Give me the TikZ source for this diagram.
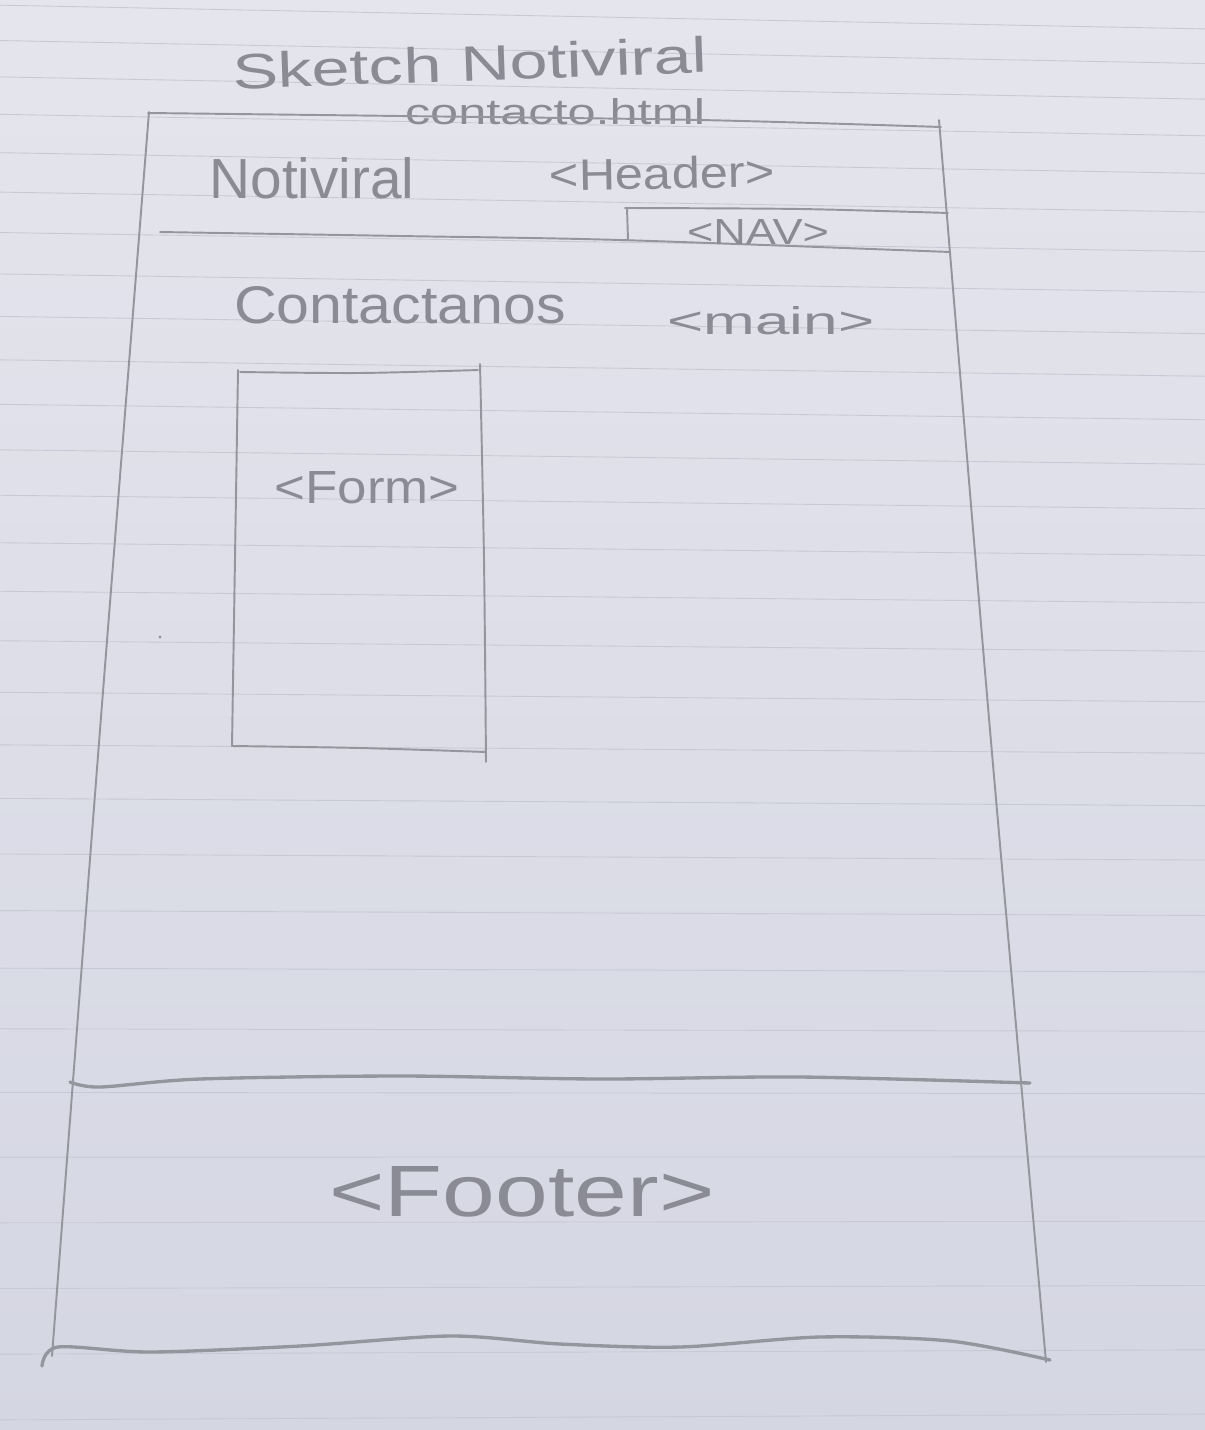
\documentclass[tikz,border=0pt]{standalone}
\usepackage{fontspec}
\setmainfont{Liberation Sans}
\usepackage{graphicx}
\definecolor{papertop}{HTML}{E5E5ED}
\definecolor{paperbottom}{HTML}{D4D6E2}
\definecolor{ruling}{HTML}{C8C9D4}
\definecolor{pencilgray}{HTML}{94959D}
\definecolor{leadgray}{HTML}{8A8B94}
% squeeze a handwritten label into a given width and height
\newcommand\scrawl[3]{\resizebox{#1}{#2}{#3}}
\begin{document}
\begin{tikzpicture}[x=0.02cm,y=-0.02cm,
  pencil/.style={draw=pencilgray, line width=1.1pt, line cap=round, line join=round},
  heavy/.style={pencil, line width=1.9pt},
  rule/.style={draw=ruling, line width=0.5pt},
  hand/.style={inner sep=0pt, text=leadgray}]
\useasboundingbox (0,0) rectangle (1204,1430);

% lined notebook paper
\fill[top color=papertop, bottom color=paperbottom] (-10,-10) rectangle (1214,1440);
\foreach \r in {17,52,88,125,163,202,242,283,325,368,412,457,502,549,597,646,697,749,802,857,913,970,1030,1093,1157,1222,1287,1352,1417}{
  \pgfmathsetmacro\s{0.02-0.025*\r/1430}
  \draw[rule] (-10,{\r-\s*610}) -- (1214,{\r+\s*614});
}

% title
\node[hand, rotate=2] (title) at (470,63) {\scrawl{9.5cm}{0.72cm}{Sketch Notiviral}};
\node[hand] (file) at (555,112) {\scrawl{6cm}{0.52cm}{contacto.html}};

% page frame
\draw[pencil] plot[smooth] coordinates {(148,113) (400,116) (700,120) (941,127)};
\draw[pencil] plot[smooth] coordinates {(939,120) (990,730) (1046,1362)};
\draw[pencil] plot[smooth] coordinates {(149,112) (100,730) (52,1356)};
\draw[heavy] plot[smooth] coordinates {(42,1366) (58,1347) (150,1352) (300,1346) (450,1336) (560,1344) (680,1347) (820,1337) (950,1341) (1050,1360)};

% header
\node[hand] (brand) at (312,178) {\scrawl{4.1cm}{0.82cm}{Notiviral}};
\node[hand, rotate=1] (header) at (662,173) {\scrawl{4.5cm}{0.64cm}{<Header>}};
\draw[pencil] plot[smooth] coordinates {(160,232) (400,236) (620,240) (950,252)};

% navigation strip
\draw[pencil] plot[smooth] coordinates {(625,208) (800,209) (948,213)};
\draw[pencil] (627,208) -- (628,240);
\node[hand] (nav) at (758,232) {\scrawl{2.84cm}{0.5cm}{<NAV>}};

% main area
\node[hand] (contact) at (400,305) {\scrawl{6.64cm}{0.74cm}{Contactanos}};
\node[hand] (main) at (771,321) {\scrawl{4.14cm}{0.56cm}{<main>}};

% form box
\draw[pencil] plot[smooth] coordinates {(240,372) (360,373) (478,370)};
\draw[pencil] (238,370) -- (232,746);
\draw[pencil] plot[smooth] coordinates {(232,746) (360,748) (486,752)};
\draw[pencil] plot[smooth] coordinates {(480,364) (484,560) (486,762)};
\node[hand] (form) at (367,488) {\scrawl{3.7cm}{0.64cm}{<Form>}};
\fill[pencilgray] (160,637) circle (1.6);

% footer
\draw[heavy] plot[smooth] coordinates {(70,1082) (100,1087) (200,1079) (400,1076) (600,1079) (800,1077) (1030,1083)};
\node[hand] (footer) at (522,1192) {\scrawl{7.7cm}{1.0cm}{<Footer>}};
\end{tikzpicture}
\end{document}
